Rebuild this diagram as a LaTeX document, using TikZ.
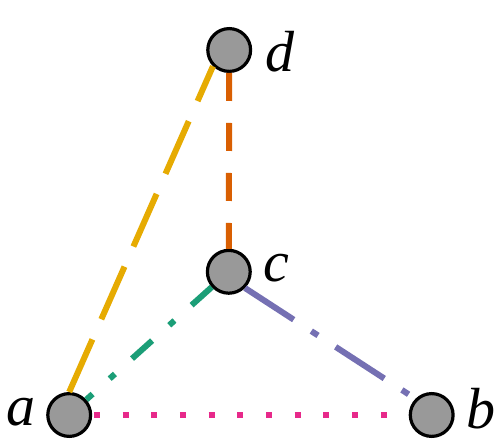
\documentclass[tikz,border=0pt]{standalone}
\usepackage{fontspec}
\setmainfont{Liberation Serif}
\begin{document}
\begin{tikzpicture}[x=1pt,y=-1pt,
  vert/.style={circle,draw=black,line width=3.2pt,fill=vgray,minimum size=42.8pt,inner sep=0pt},
  lbl/.style={inner sep=0pt,font=\fontsize{58}{60}\selectfont\itshape},
  edge/.style={line width=6pt,line cap=butt}]
\definecolor{vgray}{HTML}{999999}
\definecolor{dgreen}{HTML}{1B9E77}
\definecolor{dorange}{HTML}{D95F02}
\definecolor{dpurple}{HTML}{7570B3}
\definecolor{dpink}{HTML}{E7298A}
\definecolor{dyellow}{HTML}{E6AB02}
\useasboundingbox (0,0) rectangle (498,443);
\node[vert] (a) at (69.2,415) {};
\node[vert] (b) at (431.7,415) {};
\node[vert] (c) at (228.8,271.8) {};
\node[vert] (d) at (229.2,50) {};
\node[lbl] (la) at (20.8,411.7) {a};
\node[lbl] (lb) at (481,408.3) {b};
\node[lbl] (lc) at (276.5,268.3) {c};
\node[lbl] (ld) at (280,51.7) {d};
\draw[edge,dyellow,dash pattern=on 57.5pt off 22pt] (a.north) -- (d.south west);
\draw[edge,dorange,dash pattern=on 28pt off 22pt] (d) -- (c);
\draw[edge,dgreen,dash pattern=on 27pt off 23pt on 7pt off 23pt] (c) -- (a);
\draw[edge,dpurple,dash pattern=on 58pt off 21pt on 8pt off 21pt] (c.south east) -- (b.north west);
\draw[edge,dpink,dash pattern=on 6pt off 22.7pt,dash phase=27.1pt] (a) -- (b);
\end{tikzpicture}
\end{document}
